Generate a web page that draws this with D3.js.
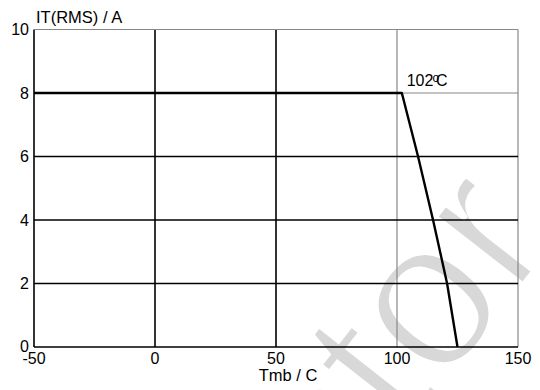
<!DOCTYPE html>
<html>
<head>
<meta charset="utf-8">
<script src="https://cdn.jsdelivr.net/npm/d3@7"></script>
<style>
  body { margin: 0; background: #fff; }
  svg { display: block; font-family: "Liberation Sans", Arial, sans-serif; }
</style>
</head>
<body>
<div id="chart"></div>
<script>
const width = 540;
const height = 390;
const margin = { top: 29.5, right: 22, bottom: 43, left: 34 };

// derating curve: case temperature vs max RMS on-state current
const tempC = [-50, 102, 108.7, 114.9, 120.7, 125];
const currentA = [8, 8, 6, 4, 2, 0];
const xTicks = [-50, 0, 50, 100, 150];
const yTicks = [0, 2, 4, 6, 8, 10];
const darkX = [-50, 0, 50];       // black gridlines
const darkY = [0, 2, 4, 6];
const kneeLabel = "102";

const x = d3.scaleLinear().domain([-50, 150]).range([margin.left, width - margin.right]);
const y = d3.scaleLinear().domain([0, 10]).range([height - margin.bottom, margin.top]);

const svg = d3.select("#chart").append("svg")
    .attr("width", width)
    .attr("height", height);

// watermark behind everything (white stroke thins the glyphs)
svg.append("text")
    .attr("transform", "translate(340,520) rotate(-52)")
    .attr("font-size", 212)
    .attr("fill", "#d8d8d8")
    .attr("stroke", "#fff")
    .attr("stroke-width", 6)
    .text("ctor");

// vertical gridlines
svg.append("g").selectAll("line")
    .data(xTicks)
    .join("line")
    .attr("x1", d => x(d)).attr("x2", d => x(d))
    .attr("y1", y(0)).attr("y2", y(10))
    .attr("stroke", d => darkX.includes(d) ? "#000" : "#888")
    .attr("stroke-width", d => darkX.includes(d) ? 1.6 : 1.2);

// horizontal gridlines
svg.append("g").selectAll("line")
    .data(yTicks)
    .join("line")
    .attr("x1", x(-50)).attr("x2", x(150))
    .attr("y1", d => y(d)).attr("y2", d => y(d))
    .attr("stroke", d => darkY.includes(d) ? "#000" : "#888")
    .attr("stroke-width", d => darkY.includes(d) ? 1.6 : 1.2);

// y tick labels
svg.append("g").selectAll("text")
    .data(yTicks)
    .join("text")
    .attr("x", x(-50) - 5)
    .attr("y", d => y(d) - (d === 0 ? 1 : 0))
    .attr("dy", "0.35em")
    .attr("text-anchor", "end")
    .attr("font-size", 16)
    .text(d => d);

// x tick labels
svg.append("g").selectAll("text")
    .data(xTicks)
    .join("text")
    .attr("x", d => x(d))
    .attr("y", y(0) + 17)
    .attr("text-anchor", "middle")
    .attr("font-size", 16)
    .text(d => d);

// the curve
svg.append("path")
    .datum(tempC.map((t, i) => [t, currentA[i]]))
    .attr("fill", "none")
    .attr("stroke", "#000")
    .attr("stroke-width", 2.4)
    .attr("stroke-linejoin", "round")
    .attr("d", d3.line().x(d => x(d[0])).y(d => y(d[1])));

// axis titles
svg.append("text")
    .attr("x", x(-50) + 2)
    .attr("y", 23)
    .attr("font-size", 16.5)
    .text("IT(RMS) / A");

svg.append("text")
    .attr("x", x(55))
    .attr("y", 381)
    .attr("text-anchor", "middle")
    .attr("font-size", 16.5)
    .text("Tmb / C");

// knee annotation
const knee = svg.append("text")
    .attr("x", x(104))
    .attr("y", y(8) - 7)
    .attr("font-size", 16);
knee.append("tspan").text(kneeLabel);
knee.append("tspan").attr("dy", -4).attr("font-size", 12).attr("dx", -1).text("o");
knee.append("tspan").attr("dy", 4).attr("dx", -3).text("C");
</script>
</body>
</html>
